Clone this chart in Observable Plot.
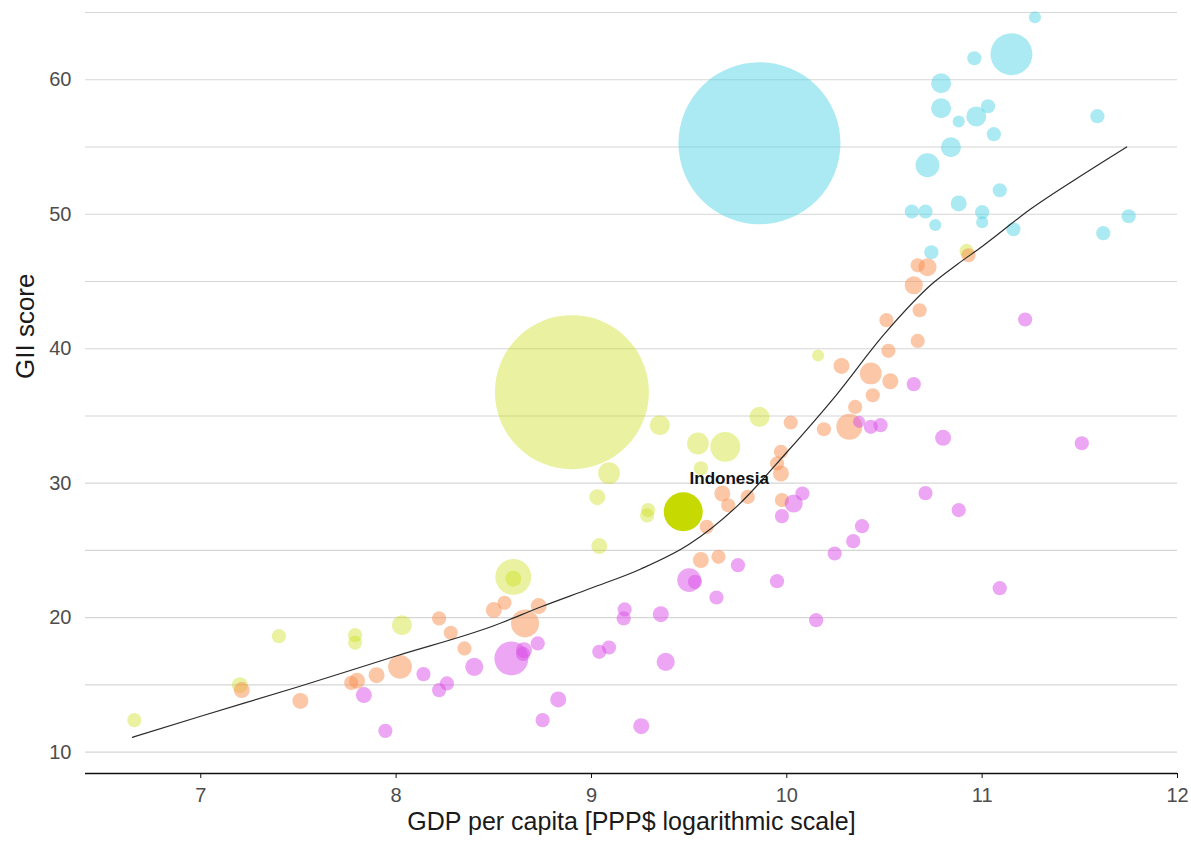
<!DOCTYPE html>
<html>
<head>
<meta charset="utf-8">
<script src="https://cdn.jsdelivr.net/npm/d3@7"></script>
<script src="https://cdn.jsdelivr.net/npm/@observablehq/plot@0.6"></script>
<style>
  html, body { margin: 0; padding: 0; background: #ffffff; }
  #chart svg { display: block; }
</style>
</head>
<body>
<div id="chart"></div>
<script>
// ---------- DATA ----------
// Each entry: [log GDP per capita (PPP$), GII score, population (millions)]
const groupNames = ["Group A", "Group B", "Group C", "Group D"];
const groupColors = ["#4fd3e3", "#c8dc0a", "#f7904f", "#d94de8"];

const groupA = [ // cyan
  [9.86, 55.28, 1435], [11.27, 64.65, 8], [11.15, 61.9, 96], [10.96, 61.6, 11],
  [10.79, 59.74, 22], [10.79, 57.88, 22], [10.97, 57.27, 22], [11.03, 58.03, 11],
  [10.88, 56.9, 8], [11.06, 55.95, 11], [10.84, 54.98, 22], [10.72, 53.64, 31],
  [11.59, 57.29, 11], [11.09, 51.78, 11], [10.88, 50.8, 14], [11.0, 50.15, 11],
  [11.0, 49.4, 8], [10.64, 50.2, 11], [10.71, 50.2, 11], [10.76, 49.2, 8],
  [11.16, 48.88, 11], [11.75, 49.85, 11], [11.62, 48.59, 11], [10.74, 47.17, 11]
];
const groupB = [ // yellow-green
  [8.90, 36.77, 1297], [10.92, 47.27, 11], [10.16, 39.49, 8], [9.86, 34.93, 22],
  [9.35, 34.31, 22], [9.545, 32.95, 26], [9.685, 32.7, 49], [9.56, 31.1, 11],
  [9.285, 27.6, 11], [9.29, 28.0, 11], [9.03, 28.96, 14], [9.04, 25.32, 14],
  [9.09, 30.74, 26], [8.60, 23.03, 71], [8.60, 22.9, 14], [8.03, 19.44, 22],
  [6.66, 12.38, 11], [7.20, 14.98, 14], [7.40, 18.62, 11], [7.79, 18.7, 11],
  [7.79, 18.13, 11]
];
const groupC = [ // orange
  [10.67, 46.2, 11], [10.72, 46.06, 18], [10.93, 46.95, 11], [10.65, 44.72, 18],
  [10.68, 42.86, 11], [10.51, 42.12, 11], [10.67, 40.58, 11], [10.52, 39.84, 11],
  [10.28, 38.72, 14], [10.43, 38.16, 26], [10.53, 37.58, 14], [10.44, 36.54, 11],
  [10.35, 35.67, 11], [10.32, 34.19, 37], [10.19, 34.01, 11], [10.02, 34.51, 11],
  [9.97, 32.33, 11], [9.95, 31.47, 11], [9.97, 30.72, 14], [9.67, 29.23, 14],
  [9.70, 28.36, 11], [9.80, 28.98, 11], [9.59, 26.75, 11], [9.975, 28.74, 11],
  [9.56, 24.28, 14], [9.65, 24.52, 11], [8.50, 20.56, 14], [8.555, 21.1, 11],
  [8.73, 20.86, 14], [8.66, 19.57, 43], [8.22, 19.94, 11], [8.28, 18.87, 11],
  [8.35, 17.71, 11], [8.02, 16.34, 31], [7.90, 15.72, 14], [7.77, 15.15, 11],
  [7.80, 15.3, 14], [7.51, 13.81, 14], [7.21, 14.61, 14]
];
const groupD = [ // magenta
  [10.37, 34.56, 8], [10.43, 34.19, 11], [10.48, 34.31, 11], [10.65, 37.36, 11],
  [10.80, 33.37, 14], [11.22, 42.17, 11], [11.51, 32.97, 11], [10.035, 28.49, 18],
  [10.08, 29.23, 11], [9.975, 27.55, 11], [10.71, 29.26, 11], [10.88, 28.0, 11],
  [9.75, 23.9, 11], [9.50, 22.79, 31], [9.53, 22.66, 11], [9.95, 22.71, 11],
  [9.64, 21.5, 11], [9.355, 20.26, 14], [10.15, 19.81, 11], [10.245, 24.77, 11],
  [10.34, 25.69, 11], [10.385, 26.8, 11], [11.09, 22.19, 11], [8.59, 16.97, 63],
  [8.655, 17.58, 14], [8.65, 17.3, 11], [8.725, 18.08, 11], [8.40, 16.34, 18],
  [8.14, 15.8, 11], [8.26, 15.11, 11], [8.22, 14.61, 11], [8.83, 13.92, 14],
  [8.75, 12.38, 11], [9.255, 11.93, 14], [7.945, 11.58, 11], [9.04, 17.46, 11],
  [9.09, 17.78, 11], [9.17, 20.61, 11], [9.165, 19.94, 11], [9.38, 16.71, 18],
  [7.835, 14.24, 14]
];

// Highlighted country
const highlightName = "Indonesia";
const highlightPoint = [9.47, 27.87, 83];

// Smoothed trend line
const trendX = [6.65, 7.0, 7.5, 8.0, 8.5, 8.75, 9.0, 9.25, 9.5, 9.75, 10.0, 10.25, 10.5, 10.75, 10.875, 11.0, 11.25, 11.5, 11.74];
const trendY = [11.1, 12.67, 14.86, 17.15, 19.4, 20.85, 22.2, 23.6, 25.45, 28.35, 32.3, 36.5, 41.1, 44.9, 46.3, 47.6, 50.4, 52.8, 55.0];

// Axes
const xTicks = [7, 8, 9, 10, 11, 12];
const yTicks = [10, 20, 30, 40, 50, 60];
const yGrid = [10, 15, 20, 25, 30, 35, 40, 45, 50, 55, 60, 65];
const xDomain = [6.41, 12];
const yDomain = [8.41, 65];
const xTitle = "GDP per capita [PPP$ logarithmic scale]";
const yTitle = "GII score";

// ---------- BUILD ----------
const groupsData = [groupA, groupB, groupC, groupD];
const points = groupsData.flatMap((arr, i) =>
  arr.map(([gdp, gii, pop]) => ({group: groupNames[i], gdp, gii, pop}))
);
const highlight = [{name: highlightName, gdp: highlightPoint[0], gii: highlightPoint[1], pop: highlightPoint[2]}];
const trend = trendX.map((x, i) => ({gdp: x, gii: trendY[i]}));

const font = "'Liberation Sans', Arial, Helvetica, sans-serif";
const opacityByGroup = {"Group A": 0.48, "Group B": 0.38, "Group C": 0.5, "Group D": 0.5};

const chart = Plot.plot({
  width: 1191,
  height: 841,
  marginLeft: 85,
  marginRight: 14,
  marginTop: 12,
  marginBottom: 68,
  style: {fontFamily: font, fontSize: "20px", background: "#ffffff", overflow: "visible"},
  x: {domain: xDomain},
  y: {domain: yDomain},
  r: {type: "sqrt", domain: [0, 1400], range: [0, 80]},
  color: {domain: groupNames, range: groupColors},
  marks: [
    Plot.gridY(yGrid, {stroke: "#d6d6d6", strokeOpacity: 1, strokeWidth: 1.1}),
    ...groupNames.map(g => Plot.dot(points.filter(d => d.group === g), {
      x: "gdp", y: "gii", r: "pop", fill: "group", fillOpacity: opacityByGroup[g], stroke: "none"
    })),
    Plot.dot(highlight, {x: "gdp", y: "gii", r: "pop", fill: "#c6d900", fillOpacity: 1, stroke: "none"}),
    Plot.line(trend, {x: "gdp", y: "gii", stroke: "#2b2b2b", strokeWidth: 1.2, curve: "monotone-x"}),
    Plot.text(highlight, {x: "gdp", y: "gii", text: "name", dx: 46, dy: -33, fontSize: 17, fontWeight: "bold", fill: "#111"}),
    Plot.ruleY([yDomain[0]], {stroke: "#111", strokeWidth: 1.4}),
    Plot.axisX(xTicks, {tickSize: 5, tickPadding: 9, fontSize: 20, stroke: "#111", color: "#4d4d4d", tickFormat: d => String(d), label: null}),
    Plot.axisY(yTicks, {tickSize: 0, tickPadding: 14, fontSize: 20, color: "#4d4d4d", tickFormat: d => String(d), label: null}),
    Plot.text([xTitle], {frameAnchor: "bottom", dy: 56, fontSize: 25, fill: "#1a1a1a"}),
    Plot.text([yTitle], {frameAnchor: "left", dx: -60, dy: -14, rotate: -90, fontSize: 26, fill: "#1a1a1a"})
  ]
});

document.getElementById("chart").appendChild(chart);
</script>
</body>
</html>
